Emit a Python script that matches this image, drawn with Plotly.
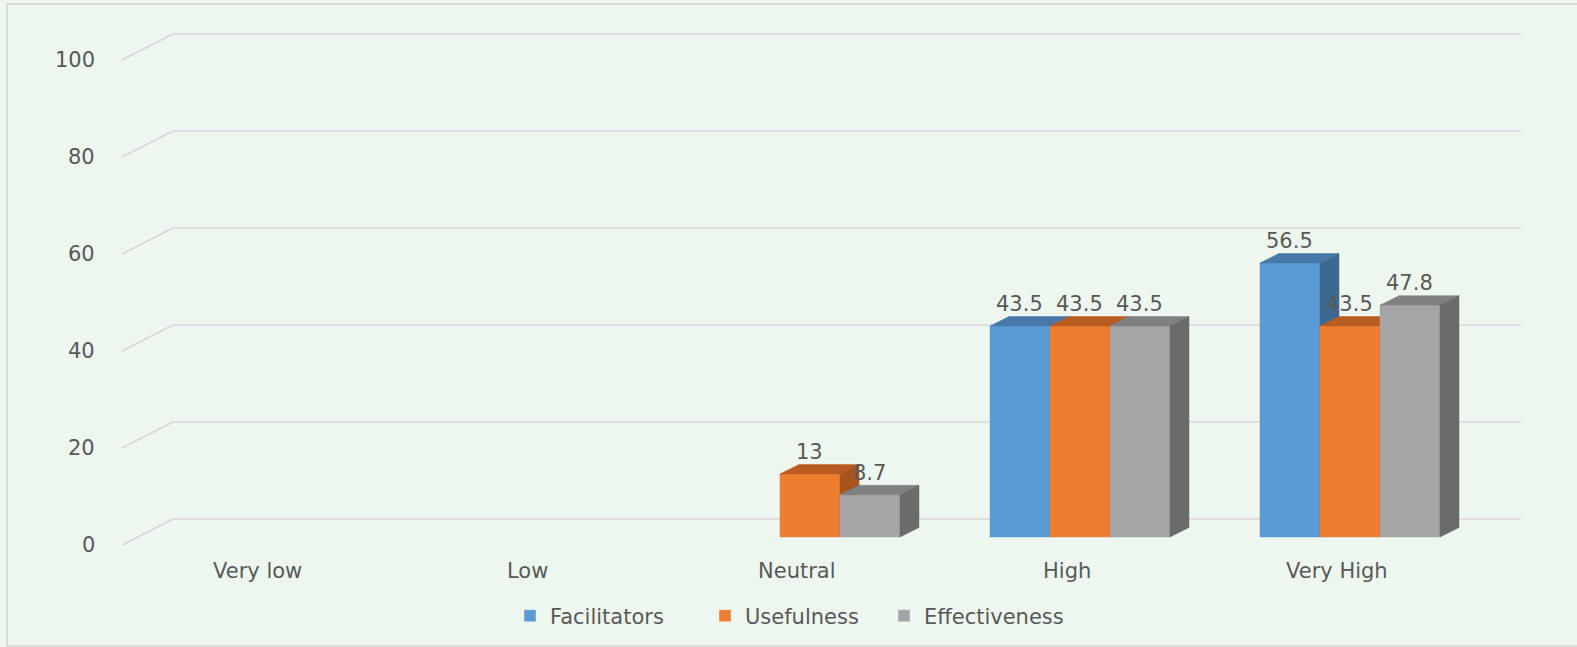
import plotly.graph_objects as go

# ---- data ----
categories = ["Very low", "Low", "Neutral", "High", "Very High"]
series_names = ["Facilitators", "Usefulness", "Effectiveness"]
facilitators = [0, 0, 0, 43.5, 56.5]
usefulness = [0, 0, 13, 43.5, 43.5]
effectiveness = [0, 0, 8.7, 43.5, 47.8]
tick_values = [0, 20, 40, 60, 80, 100]

series_values = [facilitators, usefulness, effectiveness]
front_colors = ["#5B9BD5", "#ED7D31", "#A5A5A5"]
top_colors = ["#4679A8", "#B85C22", "#808080"]
side_colors = ["#3D6991", "#A9531D", "#6B6B6B"]

# ---- layout geometry (pixel-calibrated axis ranges) ----
W, H = 1577, 647
PX_PER_X = 270.0          # pixels per category
PX_PER_Y = 4.85           # pixels per value unit
X0_PX = 270.0             # pixel of category 0
Y0_PX = 537.0             # pixel of value 0 (bar front)
x_range = [-X0_PX / PX_PER_X, (W - X0_PX) / PX_PER_X]
y_range = [-(H - Y0_PX) / PX_PER_Y, Y0_PX / PX_PER_Y]

BAR_W = 60 / PX_PER_X
GROUP_OFF = -90 / PX_PER_X
DX = 19 / PX_PER_X        # depth shift x
DY = 9.5 / PX_PER_Y       # depth shift y
WALL_DY = 18 / PX_PER_Y   # back wall offset
FRONT_DY = -8 / PX_PER_Y  # front axis offset
WALL_X0 = (173 - X0_PX) / PX_PER_X
WALL_X1 = (1521 - X0_PX) / PX_PER_X
FRONT_X = (122 - X0_PX) / PX_PER_X
TICK_X = (97 - X0_PX) / PX_PER_X

FONT = "DejaVu Sans"
TXT = "#595959"
FS = 21

fig = go.Figure()

def poly(xs, ys, color):
    fig.add_trace(go.Scatter(x=xs + [xs[0]], y=ys + [ys[0]], mode="lines",
                             fill="toself", fillcolor=color,
                             line=dict(width=0.5, color=color),
                             showlegend=False, hoverinfo="skip"))

annotations = []
for i, cat in enumerate(categories):
    for k, vals in enumerate(series_values):
        v = vals[i]
        if v <= 0:
            continue
        x0 = i + GROUP_OFF + k * BAR_W
        x1 = x0 + BAR_W
        poly([x0, x1, x1, x0], [0, 0, v, v], front_colors[k])
        poly([x0, x1, x1 + DX, x0 + DX], [v, v, v + DY, v + DY], top_colors[k])
        poly([x1, x1 + DX, x1 + DX, x1], [0, DY, v + DY, v], side_colors[k])
        annotations.append(dict(x=(x0 + x1) / 2, y=v, text=f"{v:g}", showarrow=False,
                                yshift=22, xshift=-1, font=dict(family=FONT, size=FS, color=TXT),
                                xanchor="center", yanchor="middle"))
    annotations.append(dict(x=i, y=0, text=cat, showarrow=False, yshift=-34, xshift=-13,
                            font=dict(family=FONT, size=FS, color=TXT),
                            xanchor="center", yanchor="middle"))

# legend-only traces, one legend each for exact placement
legend_names = ["legend", "legend2", "legend3"]
legend_px = [524, 719, 898]
for k, name in enumerate(series_names):
    fig.add_trace(go.Bar(x=[None], y=[None], name=name, marker_color=front_colors[k],
                         legend=legend_names[k]))

shapes = []
for t in tick_values:
    shapes.append(dict(type="line", xref="x", yref="y", x0=WALL_X0, x1=WALL_X1,
                       y0=t + WALL_DY, y1=t + WALL_DY, line=dict(color="#DCD5DC", width=1.5),
                       layer="below"))
    shapes.append(dict(type="line", xref="x", yref="y", x0=FRONT_X, x1=WALL_X0,
                       y0=t + FRONT_DY, y1=t + WALL_DY, line=dict(color="#DCD5DC", width=1.5),
                       layer="below"))
    annotations.append(dict(x=TICK_X, y=t + FRONT_DY, text=str(t), showarrow=False,
                            xanchor="right", yanchor="middle",
                            font=dict(family=FONT, size=FS, color=TXT)))

shapes.append(dict(type="rect", xref="paper", yref="paper", x0=7 / W, x1=1.01,
                   y0=1 - 646 / H, y1=1 - 4 / H, line=dict(color="#D3D3D3", width=1.5),
                   layer="below"))

leg_common = dict(orientation="h", xanchor="left", y=1 - 616 / H, yanchor="middle",
                  font=dict(family=FONT, size=FS, color=TXT), bgcolor="rgba(0,0,0,0)",
                  borderwidth=0)
layout_legends = {}
for name, px in zip(legend_names, legend_px):
    layout_legends[name] = dict(leg_common, x=(px - 14) / W)

fig.update_layout(
    width=W, height=H, autosize=False,
    margin=dict(l=0, r=0, t=0, b=0),
    paper_bgcolor="#EDF7EF", plot_bgcolor="#EDF7EF",
    xaxis=dict(range=x_range, visible=False, fixedrange=True),
    yaxis=dict(range=y_range, visible=False, fixedrange=True),
    shapes=shapes, annotations=annotations,
    showlegend=True,
    font=dict(family=FONT, color=TXT),
    **layout_legends,
)

fig.write_html("out.html")
